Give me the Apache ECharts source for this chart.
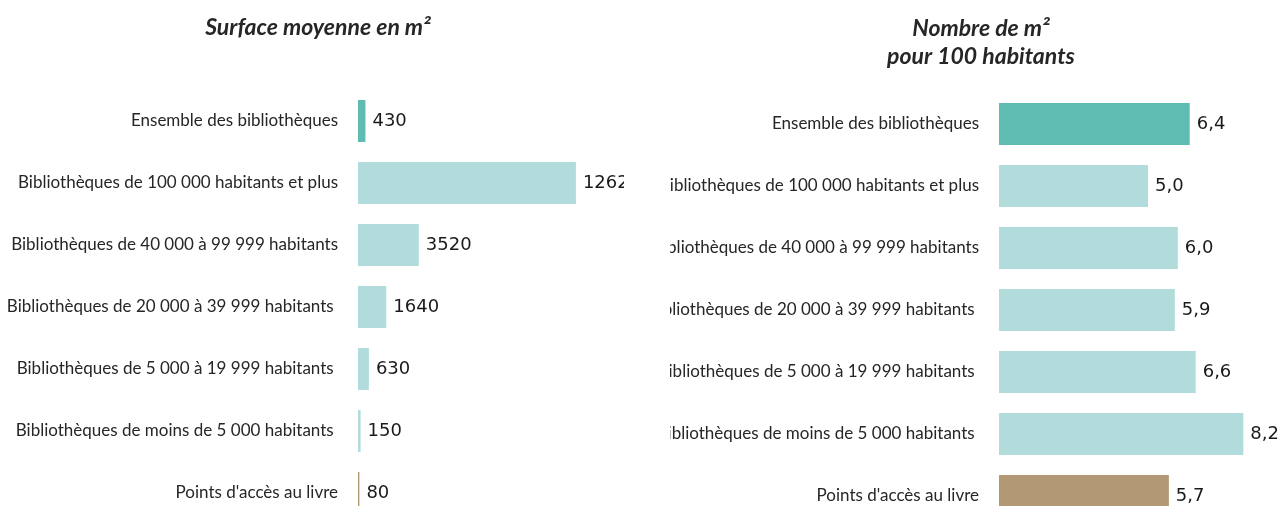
<!DOCTYPE html>
<html>
<head>
<meta charset="utf-8">
<script src="https://cdn.jsdelivr.net/npm/echarts@6/dist/echarts.min.js"></script>
<style>
  html, body { margin: 0; padding: 0; background: #fff; overflow: hidden; width: 1282px; height: 506px; }
  .panel { position: absolute; top: 0; height: 540px; }
  #surface { left: 0; width: 624px; }
  #densite { left: 670px; width: 612px; }
</style>
</head>
<body>
<div id="surface" class="panel"></div>
<div id="densite" class="panel"></div>
<script>
const categories = [
  'Ensemble des bibliothèques',
  'Bibliothèques de 100 000 habitants et plus',
  'Bibliothèques de 40 000 à 99 999 habitants',
  'Bibliothèques de 20 000 à 39 999 habitants ',
  'Bibliothèques de 5 000 à 19 999 habitants ',
  'Bibliothèques de moins de 5 000 habitants ',
  "Points d'accès au livre"
]
const surfaceValues = [430, 12620, 3520, 1640, 630, 150, 80]
const densiteValues = [6.4, 5.0, 6.0, 5.9, 6.6, 8.2, 5.7]

const TEXT = '#262626'

// couleur selon la ligne : ensemble / tranches / points d'accès
function barColor(idx) {
  if (idx === 0) return '#5fbcb3'
  if (idx === categories.length - 1) return '#b39875'
  return '#b1dcdb'
}

function buildOption(values, cfg) {
  return {
    animation: false,
    graphic: [{
      type: 'text',
      x: cfg.titleX,
      y: cfg.titleY,
      style: {
        text: cfg.title,
        fill: TEXT,
        fontFamily: 'Lato',
        fontStyle: 'italic',
        fontWeight: 'bold',
        fontSize: 23,
        lineHeight: 28,
        textAlign: 'center',
        textVerticalAlign: 'middle'
      }
    }],
    grid: {
      left: cfg.left,
      top: cfg.top,
      width: cfg.width,
      height: 434,
      containLabel: false,
      outerBoundsMode: 'none'
    },
    xAxis: {
      type: 'value',
      min: 0,
      max: cfg.max,
      show: false
    },
    yAxis: {
      type: 'category',
      inverse: true,
      data: categories,
      axisLine: { show: false },
      axisTick: { show: false },
      axisLabel: {
        margin: 20,
        color: TEXT,
        fontFamily: 'Lato',
        fontSize: 17
      }
    },
    series: [{
      type: 'bar',
      barWidth: 42,
      data: values.map((v, idx) => ({
        value: v,
        itemStyle: { color: barColor(idx) }
      })),
      label: {
        show: true,
        position: 'right',
        distance: 7,
        color: '#1a1a1a',
        fontFamily: 'DejaVu Sans',
        fontSize: 18,
        formatter: p => cfg.format(p.value)
      }
    }]
  }
}

const left = echarts.init(document.getElementById('surface'), null, { renderer: 'canvas' })
left.setOption(buildOption(surfaceValues, {
  title: 'Surface moyenne en m²',
  titleX: 318, titleY: 28,
  left: 358, top: 90, width: 259, max: 15000,
  format: v => String(v)
}))

const right = echarts.init(document.getElementById('densite'), null, { renderer: 'canvas' })
right.setOption(buildOption(densiteValues, {
  title: 'Nombre de m²\npour 100 habitants',
  titleX: 311, titleY: 43,
  left: 329, top: 93, width: 298, max: 10,
  format: v => v.toFixed(1).replace('.', ',')
}))
</script>
</body>
</html>
